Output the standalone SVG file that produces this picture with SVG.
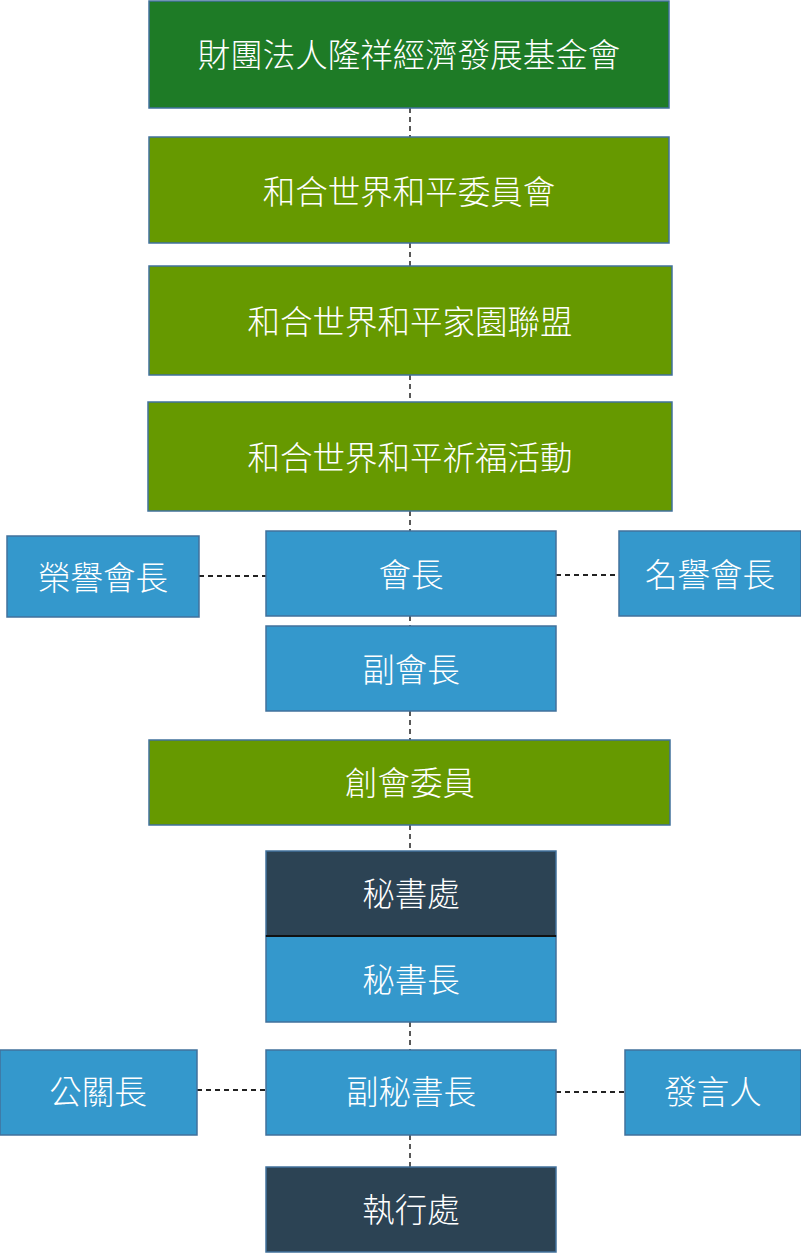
<svg xmlns="http://www.w3.org/2000/svg" width="801" height="1253" viewBox="0 0 801 1253">
<style>
.b{stroke:#41719c;stroke-width:1.5}
.dg{fill:#1e7b26}
.g{fill:#669900}
.bl{fill:#3498cc}
.dk{fill:#2c4354}
text{font-family:"Noto Sans CJK TC","Noto Sans CJK SC",sans-serif;font-size:32.5px;font-weight:300;fill:#fff;text-anchor:middle;dominant-baseline:central}
.c{stroke:#222;stroke-width:1.5;stroke-dasharray:5 4;fill:none}
.h{stroke-width:2}
</style>
<rect width="801" height="1253" fill="#fff"/>
<g id="connectors">
<line class="c" x1="410" y1="108" x2="410" y2="137"/>
<line class="c" x1="410" y1="243" x2="410" y2="266"/>
<line class="c" x1="410" y1="375" x2="410" y2="402"/>
<line class="c" x1="410" y1="511" x2="410" y2="531"/>
<line class="c" x1="410" y1="616" x2="410" y2="626"/>
<line class="c" x1="410" y1="711" x2="410" y2="740"/>
<line class="c" x1="410" y1="825" x2="410" y2="851"/>
<line class="c" x1="410" y1="1022" x2="410" y2="1050"/>
<line class="c" x1="410" y1="1135" x2="410" y2="1167"/>
<line class="c h" x1="199" y1="576" x2="266" y2="576"/>
<line class="c h" x1="556" y1="575" x2="619" y2="575"/>
<line class="c h" x1="197" y1="1090" x2="266" y2="1090"/>
<line class="c h" x1="556" y1="1092" x2="625" y2="1092"/>
</g>
<g id="n1"><rect class="b dg" x="149" y="1" width="520" height="107"/><text x="409" y="52">財團法人隆祥經濟發展基金會</text></g>
<g id="n2"><rect class="b g" x="149" y="137" width="520" height="106"/><text x="409" y="189">和合世界和平委員會</text></g>
<g id="n3"><rect class="b g" x="149" y="266" width="523" height="109"/><text x="410" y="319">和合世界和平家園聯盟</text></g>
<g id="n4"><rect class="b g" x="148" y="402" width="524" height="109"/><text x="410" y="455">和合世界和平祈福活動</text></g>
<g id="n5"><rect class="b bl" x="266" y="531" width="290" height="85"/><text x="411" y="572">會長</text></g>
<g id="n6"><rect class="b bl" x="7" y="536" width="192" height="81"/><text x="103" y="575">榮譽會長</text></g>
<g id="n7"><rect class="b bl" x="619" y="531" width="182" height="85"/><text x="710" y="572">名譽會長</text></g>
<g id="n8"><rect class="b bl" x="266" y="626" width="290" height="85"/><text x="411" y="667">副會長</text></g>
<g id="n9"><rect class="b g" x="149" y="740" width="521" height="85"/><text x="410" y="780">創會委員</text></g>
<g id="n10"><rect class="b dk" x="266" y="851" width="290" height="85"/><text x="411" y="891">秘書處</text></g>
<g id="n11"><rect class="b bl" x="266" y="936" width="290" height="86"/><text x="411" y="977">秘書長</text><line x1="266" y1="936" x2="556" y2="936" stroke="#111" stroke-width="2"/></g>
<g id="n12"><rect class="b bl" x="0" y="1050" width="197" height="85"/><text x="98" y="1089">公關長</text></g>
<g id="n13"><rect class="b bl" x="266" y="1050" width="290" height="85"/><text x="411" y="1089">副秘書長</text></g>
<g id="n14"><rect class="b bl" x="625" y="1050" width="176" height="85"/><text x="713" y="1089">發言人</text></g>
<g id="n15"><rect class="b dk" x="266" y="1167" width="290" height="85"/><text x="411" y="1207">執行處</text></g>
</svg>
